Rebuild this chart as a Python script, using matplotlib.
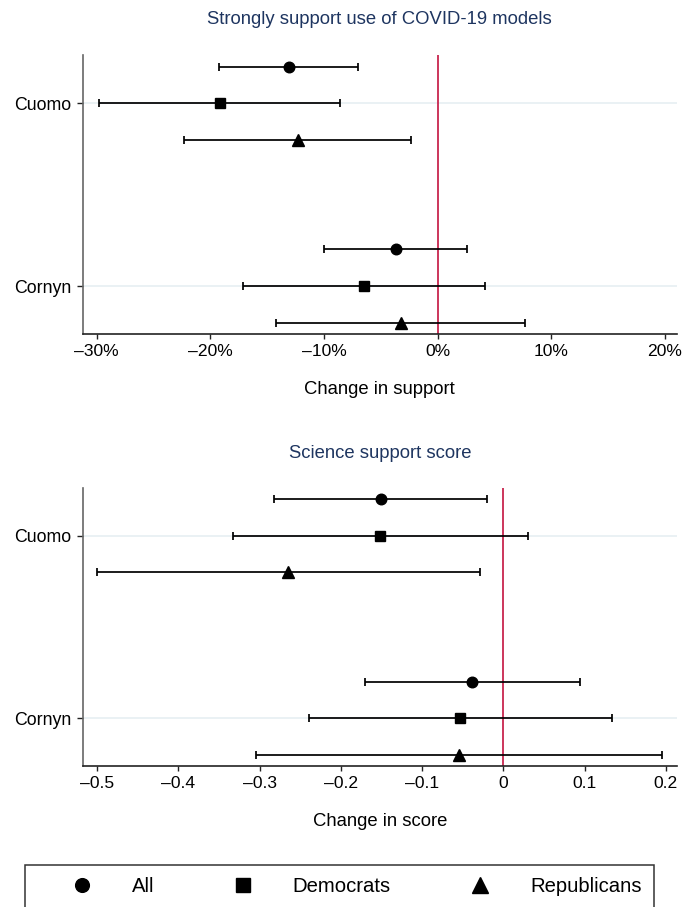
import matplotlib
matplotlib.use("Agg")
import matplotlib.pyplot as plt
from matplotlib.ticker import FuncFormatter
from matplotlib.lines import Line2D
import numpy as np

plt.rcParams['font.family'] = ['Liberation Sans', 'DejaVu Sans']

# ---- data -------------------------------------------------------------------
groups = ['Cuomo', 'Cornyn']
group_y = [2, 1]
series = ['All', 'Democrats', 'Republicans']

# Strongly support use of COVID-19 models (share), order = [Cuomo, Cornyn]
support_all = [-0.131, -0.037]
support_all_lo = [-0.192, -0.100]
support_all_hi = [-0.070, 0.026]
support_dem = [-0.191, -0.065]
support_dem_lo = [-0.298, -0.171]
support_dem_hi = [-0.086, 0.042]
support_rep = [-0.123, -0.032]
support_rep_lo = [-0.223, -0.142]
support_rep_hi = [-0.023, 0.077]

# Science support score
score_all = [-0.151, -0.038]
score_all_lo = [-0.282, -0.170]
score_all_hi = [-0.020, 0.094]
score_dem = [-0.152, -0.053]
score_dem_lo = [-0.333, -0.239]
score_dem_hi = [0.030, 0.134]
score_rep = [-0.265, -0.055]
score_rep_lo = [-0.500, -0.304]
score_rep_hi = [-0.029, 0.196]

support_ticks = [-0.3, -0.2, -0.1, 0, 0.1, 0.2]
score_ticks = [-0.5, -0.4, -0.3, -0.2, -0.1, 0, 0.1, 0.2]

# ---- styling -----------------------------------------------------------------
W, H = 684, 907
offsets = [0.2, 0.0, -0.2]
markers = ['o', 's', '^']
msizes = [7.6, 7.4, 8.6]
title_col = '#1e3560'
zero_col = '#c8254e'
grid_col = '#e4eef1'


def dash(s):
    return s.replace('-', '\u2013')


def pct_fmt(v, pos):
    return dash('%d%%' % round(v * 100))


def num_fmt(v, pos):
    if abs(v) < 1e-9:
        return '0'
    return dash('%.1f' % v)


def panel(ax, est, lo, hi, xlim, ticks, fmt, xlabel):
    ax.set_xlim(xlim)
    ax.set_ylim(0.738, 2.263)
    for y in group_y:
        ax.axhline(y, color=grid_col, lw=1.1, zorder=0)
    ax.axvline(0, color=zero_col, lw=1.3, zorder=1)
    for k in range(3):
        ys = np.array(group_y) + offsets[k]
        e = np.array(est[k])
        err = [e - np.array(lo[k]), np.array(hi[k]) - e]
        ax.errorbar(e, ys, xerr=err, fmt=markers[k], color='black',
                    ms=msizes[k], elinewidth=1.25, capsize=3.2,
                    capthick=1.25, zorder=3, label=series[k])
    ax.set_yticks(group_y)
    ax.set_yticklabels(groups)
    ax.set_xticks(ticks)
    ax.xaxis.set_major_formatter(FuncFormatter(fmt))
    for s in ['top', 'right']:
        ax.spines[s].set_visible(False)
    ax.spines['left'].set_color('#666666')
    ax.spines['bottom'].set_color('#222222')
    ax.spines['left'].set_linewidth(1.2)
    ax.spines['bottom'].set_linewidth(1.2)
    ax.tick_params(axis='y', length=4.3, width=1.0, pad=4, labelsize=12.8,
                   color='#222222')
    ax.tick_params(axis='x', length=3.6, width=1.0, pad=3.5, labelsize=12.6,
                   color='#222222')
    ax.set_xlabel(xlabel, fontsize=13.3)


fig = plt.figure(figsize=(W / 100, H / 100), dpi=100)

# axes positions in pixels: left, right, top, bottom
L, R = 83, 676.7
ax1 = fig.add_axes([L / W, 1 - 334 / H, (R - L) / W, (334 - 55) / H])
ax2 = fig.add_axes([L / W, 1 - 766 / H, (R - L) / W, (766 - 488) / H])

panel(ax1,
      [support_all, support_dem, support_rep],
      [support_all_lo, support_dem_lo, support_rep_lo],
      [support_all_hi, support_dem_hi, support_rep_hi],
      (-0.3119, 0.2103), support_ticks, pct_fmt, 'Change in support')
panel(ax2,
      [score_all, score_dem, score_rep],
      [score_all_lo, score_dem_lo, score_rep_lo],
      [score_all_hi, score_dem_hi, score_rep_hi],
      (-0.5176, 0.2135), score_ticks, num_fmt, 'Change in score')

# x labels sit at fixed distance below the axes
ax1.xaxis.set_label_coords(0.5, -(390 - 334) / (334 - 55))
ax1.xaxis.label.set_va('center')
ax2.xaxis.set_label_coords(0.5, -(822 - 766) / (766 - 488))
ax2.xaxis.label.set_va('center')

xc = (L + R) / 2 / W
fig.text(xc, 1 - 20 / H, 'Strongly support use of COVID-19 models',
         ha='center', va='center', fontsize=13.3, color=title_col)
fig.text(xc, 1 - 453 / H, 'Science support score',
         ha='center', va='center', fontsize=13.3, color=title_col)

# legend: markers only, no error bars
leg_handles = [Line2D([], [], ls='none', marker=markers[k], color='black',
                      ms=msizes[k] * 1.3) for k in range(3)]
leg = fig.legend(leg_handles, series, loc='upper left', ncol=3,
                 bbox_to_anchor=(25 / W, 1 - 865 / H), borderaxespad=0,
                 fontsize=14.6, handlelength=4.4, handletextpad=0.25,
                 columnspacing=2.2, borderpad=0.6, fancybox=False,
                 frameon=True)
leg.get_frame().set_edgecolor('black')
leg.get_frame().set_linewidth(1.1)

fig.savefig('out.png', dpi=100)
